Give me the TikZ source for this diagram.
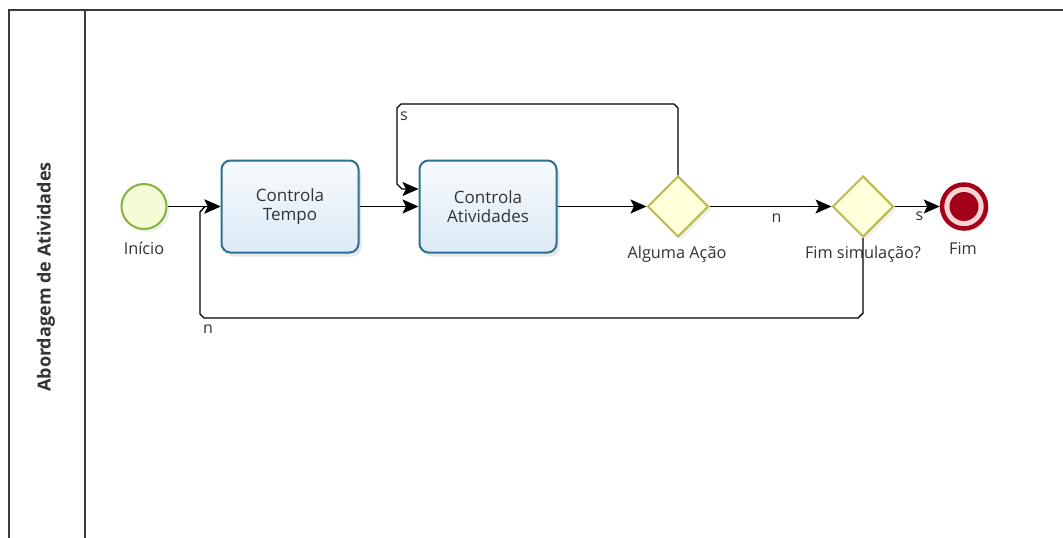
\documentclass[tikz,border=0pt]{standalone}
\usepackage{fontspec}
\setmainfont{Open Sans}
\usetikzlibrary{shapes.geometric,arrows.meta,shadows}

\definecolor{poolline}{HTML}{3A3A3A}
\definecolor{txt}{HTML}{333333}
\definecolor{taskline}{HTML}{2E708F}
\definecolor{tasktop}{HTML}{F6FAFD}
\definecolor{taskbot}{HTML}{DCEAF5}
\definecolor{gateline}{HTML}{BABA4E}
\definecolor{gatefill}{HTML}{FFFFDA}
\definecolor{startline}{HTML}{86B23E}
\definecolor{startfill}{HTML}{F4FBD6}
\definecolor{endline}{HTML}{A3001A}
\definecolor{endfill}{HTML}{F8D6D6}

\tikzset{
  lbl/.style={text=txt, font=\fontsize{16.3}{19}\selectfont, inner sep=0pt},
  flowlbl/.style={text=txt, font=\fontsize{16}{19}\selectfont, inner sep=0pt},
  task/.style={draw=taskline, line width=2pt, rounded corners=9pt,
    top color=tasktop, bottom color=taskbot,
    minimum width=137pt, minimum height=92pt, align=center, text=txt,
    font=\fontsize{17}{19.5}\selectfont,
    drop shadow={opacity=0.18, shadow xshift=3pt, shadow yshift=-4pt}},
  gate/.style={diamond, aspect=1, draw=gateline, line width=2pt, fill=gatefill,
    minimum width=61pt, minimum height=61pt, inner sep=0pt,
    drop shadow={opacity=0.12, shadow xshift=3pt, shadow yshift=-3pt}},
  startev/.style={circle, draw=startline, line width=2pt, fill=startfill,
    minimum size=45pt, inner sep=0pt,
    drop shadow={opacity=0.12, shadow xshift=3pt, shadow yshift=-3pt}},
  endev/.style={circle, draw=endline, line width=4.5pt, fill=endfill,
    minimum size=44pt, inner sep=0pt,
    drop shadow={opacity=0.15, shadow xshift=3pt, shadow yshift=-3pt}},
  flow/.style={draw=black, line width=1.4pt,
    -{Stealth[length=16pt, width=14pt, inset=3.5pt]}},
}

\begin{document}
\begin{tikzpicture}[x=1pt, y=-1pt]
\useasboundingbox (0,0) rectangle (1063,538);
\fill[white] (0,0) rectangle (1063,538);

% pool with its single lane header
\draw[poolline, line width=1.4pt] (1063,10) -- (9,10) -- (9,538);
\draw[poolline, line width=1.4pt] (85,10) -- (85,538);
\node[rotate=90, text=txt, font=\bfseries\fontsize{18}{22}\selectfont] (lane) at (46,277) {Abordagem de Atividades};

% flow objects
\node[startev] (inicio) at (144,206.5) {};
\node[lbl] (inicioL) at (144,248) {Início};

\node[task] (tempo) at (290,206.5) {Controla\\Tempo};
\node[task] (ativ) at (488,206.5) {Controla\\Atividades};

\node[gate] (acao) at (678,206.5) {};
\node[lbl] (acaoL) at (677,254) {Alguma Ação};

\node[gate] (fimsim) at (863,206.5) {};
\node[lbl] (fimsimL) at (863,254) {Fim simulação?};

\node[endev] (fim) at (964,206.5) {};
\fill[endline] (fim.center) circle (14.5pt);
\node[lbl] (fimL) at (963,249) {Fim};

% sequence flows
\draw[flow] (inicio) -- (tempo.west |- inicio);
\draw[flow] (tempo) -- (ativ);
\draw[flow] (ativ) -- (acao);
\draw[flow] (acao) -- node[flowlbl, pos=0.55, below=7pt] (nlbl) {n} (fimsim);
\draw[flow] (fimsim) -- node[flowlbl, pos=0.55, below=5pt] (slbl) {s} (fim);

% "s" loop back to Controla Atividades, with chamfered bends
\draw[flow] (acao.north) -- (678,108) -- (674,104) -- (401,104) -- (397,108)
  -- (397,184) -- (402,189) -- (ativ.west |- 0,189);
\node[flowlbl] (sloop) at (404,116) {s};

% "n" loop back to Controla Tempo
\draw[flow] (fimsim.south) -- (863,313) -- (858,318) -- (204,318) -- (200,314)
  -- (200,212) -- (205,206.5) -- (tempo.west);
\node[flowlbl] (nloop) at (208,329) {n};
\end{tikzpicture}
\end{document}
